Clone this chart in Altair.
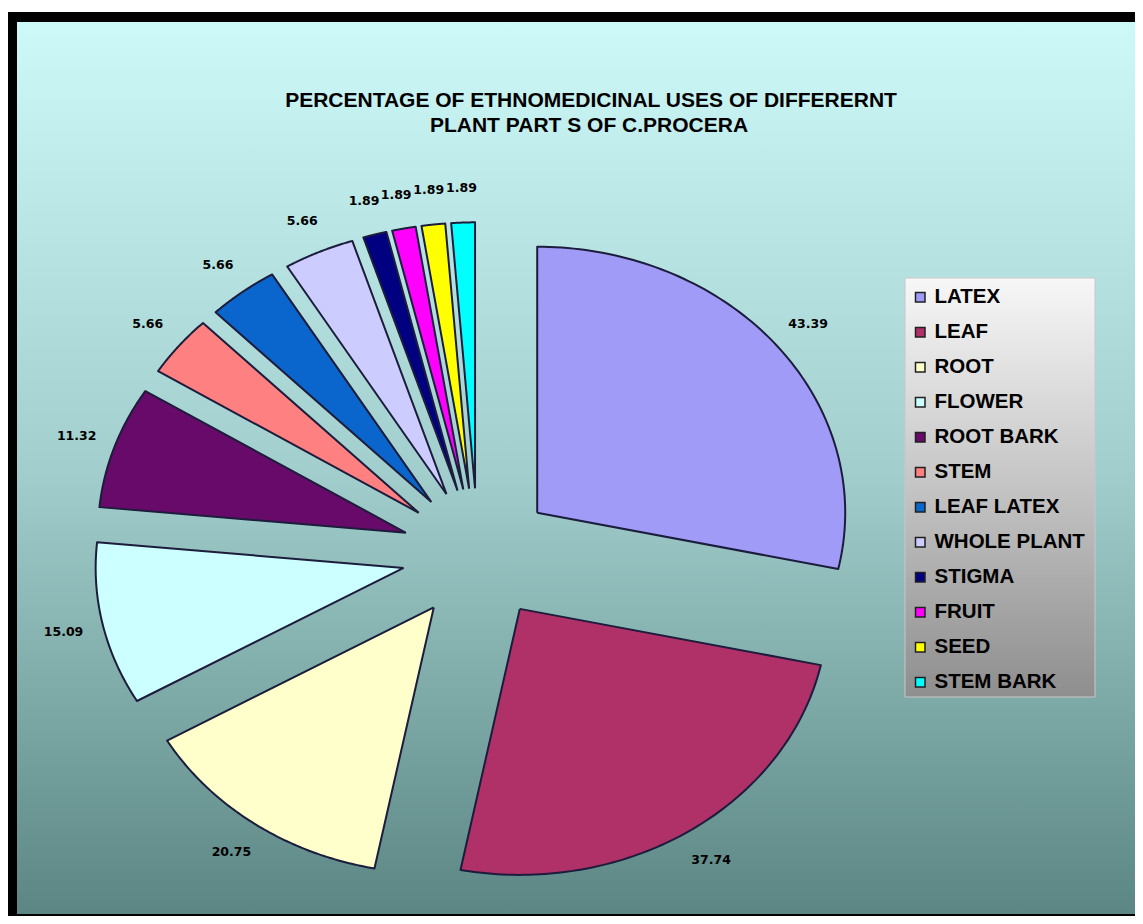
import altair as alt
import numpy as np
import pandas as pd

# ---------------- data ----------------
parts = ["LATEX", "LEAF", "ROOT", "FLOWER", "ROOT BARK", "STEM", "LEAF LATEX",
         "WHOLE PLANT", "STIGMA", "FRUIT", "SEED", "STEM BARK"]
values = [43.39, 37.74, 20.75, 15.09, 11.32, 5.66, 5.66, 5.66, 1.89, 1.89, 1.89, 1.89]
value_labels = ["43.39", "37.74", "20.75", "15.09", "11.32", "5.66", "5.66", "5.66",
                "1.89", "1.89", "1.89", "1.89"]
colors = ["#9f9bf6", "#b03068", "#ffffcc", "#ccffff", "#680a6a", "#ff8080", "#0a66cc",
          "#ccccff", "#000080", "#ff00ff", "#ffff00", "#00ffff"]
title_lines = ["PERCENTAGE OF ETHNOMEDICINAL USES OF DIFFERERNT",
               "PLANT PART S OF C.PROCERA"]

# ---------------- layout ----------------
W, H = 1127, 908          # whole chart (padding 0)
CX, CY = 470, 546         # pie centre in px
RX, RY = 308, 266         # elliptical pie radii in px
N_STEPS = 90
EXPLODE = 0.247
LABEL_R = 1.377

slices = pd.DataFrame({"part": parts, "value": values, "label": value_labels})
slices["cum0"] = slices["value"].cumsum() - slices["value"]
slices["total"] = slices["value"].sum()
steps = pd.DataFrame({"k": np.arange(-1, N_STEPS + 2)})
poly = slices.merge(steps, how="cross")

xscale = alt.Scale(domain=[-CX / RX, (W - CX) / RX], nice=False, zero=False)
yscale = alt.Scale(domain=[-(H - CY) / RY, CY / RY], nice=False, zero=False)

# background panel
one = alt.Data(values=[{"d": 0}])
panel = alt.Chart(one).mark_rect(
    color=alt.LinearGradient(
        gradient="linear", x1=0, x2=0, y1=0, y2=1,
        stops=[alt.GradientStop(color="#cdf9f9", offset=0),
               alt.GradientStop(color="#a2cfcd", offset=0.5),
               alt.GradientStop(color="#5b8684", offset=1)])
).encode(x=alt.value(9), x2=alt.value(W), y=alt.value(14), y2=alt.value(906))

frame_top = alt.Chart(one).mark_rect(color="black").encode(
    x=alt.value(0), x2=alt.value(W), y=alt.value(4), y2=alt.value(14))
frame_left = alt.Chart(one).mark_rect(color="black").encode(
    x=alt.value(0), x2=alt.value(9), y=alt.value(4), y2=alt.value(H))
frame_bottom = alt.Chart(one).mark_rect(color="black").encode(
    x=alt.value(0), x2=alt.value(W), y=alt.value(906), y2=alt.value(H))

# pie slices as filled polygons on elliptical scales
pie = alt.Chart(poly).transform_calculate(
    a0="2*PI*datum.cum0/datum.total",
    a1="2*PI*(datum.cum0+datum.value)/datum.total",
).transform_calculate(
    am="(datum.a0+datum.a1)/2",
).transform_calculate(
    tip=f"(datum.k < 0 || datum.k > {N_STEPS}) ? 1 : 0",
).transform_calculate(
    t=f"datum.tip ? datum.am : datum.a0 + (datum.a1-datum.a0)*datum.k/{N_STEPS}",
    r="datum.tip ? 0 : 1",
).transform_calculate(
    px=f"{EXPLODE}*sin(datum.am) + datum.r*sin(datum.t)",
    py=f"{EXPLODE}*cos(datum.am) + datum.r*cos(datum.t)",
).mark_line(stroke="#1c1c3c", strokeWidth=2, strokeJoin="round").encode(
    x=alt.X("px:Q", scale=xscale, axis=None),
    y=alt.Y("py:Q", scale=yscale, axis=None),
    order=alt.Order("k:Q"),
    detail="part:N",
    fill=alt.Fill("part:N", scale=alt.Scale(domain=parts, range=colors),
                  sort=parts, legend=alt.Legend(title=None)),
)

labels = alt.Chart(slices).transform_calculate(
    a0="2*PI*datum.cum0/datum.total",
    a1="2*PI*(datum.cum0+datum.value)/datum.total",
).transform_calculate(
    am="(datum.a0+datum.a1)/2",
).transform_calculate(
    lx=f"{LABEL_R}*sin(datum.am)",
    ly=f"{LABEL_R}*cos(datum.am)",
).mark_text(font="DejaVu Sans", fontWeight="bold", fontSize=12.5, color="black",
            align="center", baseline="middle").encode(
    x=alt.X("lx:Q", scale=xscale, axis=None),
    y=alt.Y("ly:Q", scale=yscale, axis=None),
    text="label:N",
)

legend_box = alt.Chart(one).mark_rect(
    stroke="#c8c8c8", strokeWidth=1,
    color=alt.LinearGradient(
        gradient="linear", x1=0, x2=0, y1=0, y2=1,
        stops=[alt.GradientStop(color="#f7f7f7", offset=0),
               alt.GradientStop(color="#c4c4c4", offset=0.5),
               alt.GradientStop(color="#8e8e8e", offset=1)])
).encode(x=alt.value(897), x2=alt.value(1087), y=alt.value(270), y2=alt.value(689))

title1 = alt.Chart(one).mark_text(
    text=title_lines[0], font="Liberation Sans", fontWeight="bold", fontSize=21,
    color="black", align="center", baseline="middle"
).encode(x=alt.value(583), y=alt.value(93))
title2 = alt.Chart(one).mark_text(
    text=title_lines[1], font="Liberation Sans", fontWeight="bold", fontSize=21,
    color="black", align="center", baseline="middle"
).encode(x=alt.value(581), y=alt.value(118))

chart = alt.layer(
    panel, frame_top, frame_left, frame_bottom, pie, labels, legend_box, title1, title2
).properties(
    width=W, height=H, padding=0, autosize=alt.AutoSizeParams(type="none")
).configure_view(stroke=None).configure_legend(
    orient="none", legendX=902, legendY=279, padding=0,
    labelFont="Liberation Sans", labelFontSize=20.5, labelFontWeight="bold",
    labelColor="black", labelOffset=4, labelLimit=300,
    symbolType="square", symbolSize=90, symbolStrokeColor="#202020",
    symbolStrokeWidth=1.5, rowPadding=14,
)

chart.save("out.html", embed_options={"renderer": "svg", "actions": False})
